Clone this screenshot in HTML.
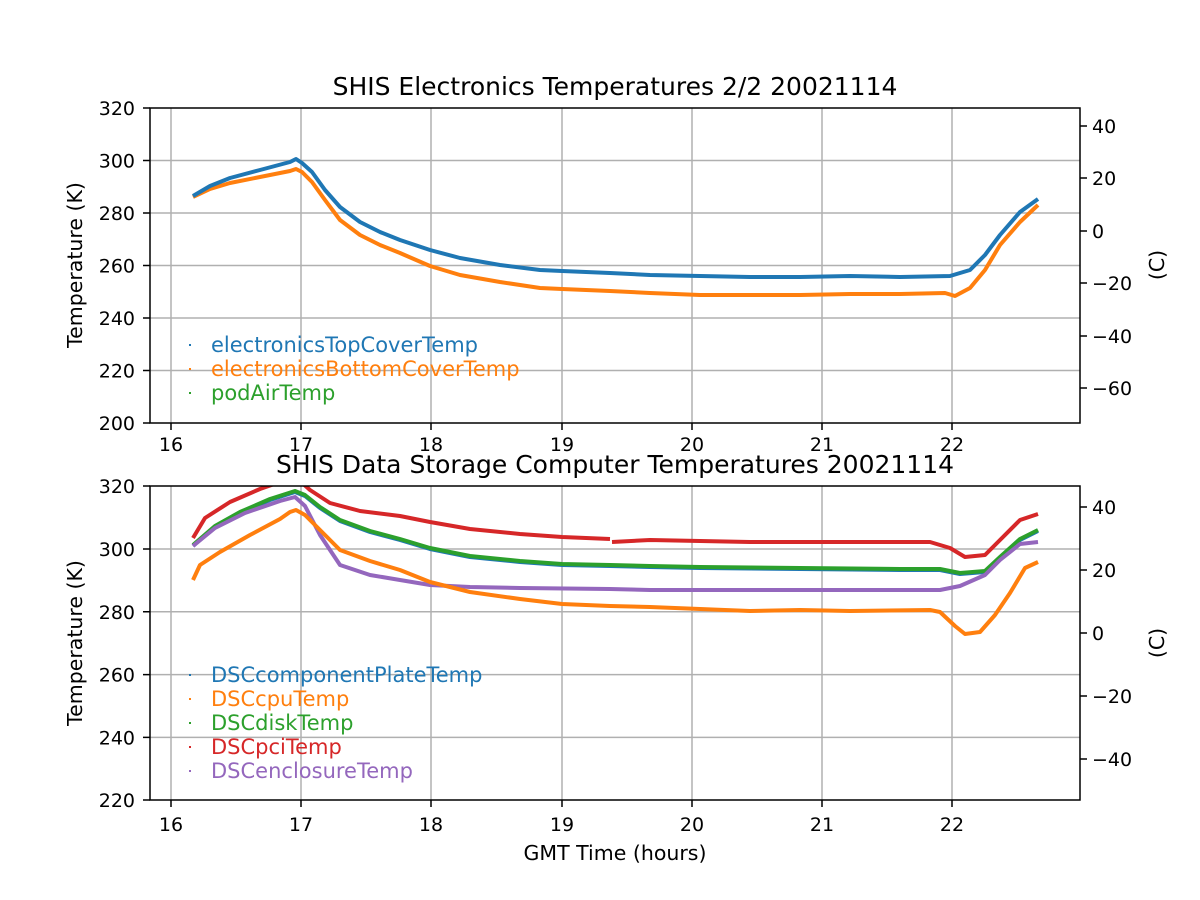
<!DOCTYPE html>
<html><head><meta charset="utf-8"><style>body{margin:0;background:#fff}svg{display:block}</style></head><body>
<svg width="1200" height="900" xmlns="http://www.w3.org/2000/svg" font-family="DejaVu Sans, Liberation Sans, sans-serif" font-size="19">
<rect width="1200" height="900" fill="#fff"/>
<g stroke="#b0b0b0" stroke-width="1.5">
<line x1="171" y1="108" x2="171" y2="423"/><line x1="301" y1="108" x2="301" y2="423"/><line x1="431" y1="108" x2="431" y2="423"/><line x1="562" y1="108" x2="562" y2="423"/><line x1="692" y1="108" x2="692" y2="423"/><line x1="822" y1="108" x2="822" y2="423"/><line x1="952" y1="108" x2="952" y2="423"/>
<line x1="150" y1="160.5" x2="1080" y2="160.5"/><line x1="150" y1="213" x2="1080" y2="213"/><line x1="150" y1="265.5" x2="1080" y2="265.5"/><line x1="150" y1="318" x2="1080" y2="318"/><line x1="150" y1="370.5" x2="1080" y2="370.5"/>
<line x1="171" y1="486" x2="171" y2="800"/><line x1="301" y1="486" x2="301" y2="800"/><line x1="431" y1="486" x2="431" y2="800"/><line x1="562" y1="486" x2="562" y2="800"/><line x1="692" y1="486" x2="692" y2="800"/><line x1="822" y1="486" x2="822" y2="800"/><line x1="952" y1="486" x2="952" y2="800"/>
<line x1="150" y1="549" x2="1080" y2="549"/><line x1="150" y1="611.8" x2="1080" y2="611.8"/><line x1="150" y1="674.6" x2="1080" y2="674.6"/><line x1="150" y1="737.4" x2="1080" y2="737.4"/>
</g>
<defs><clipPath id="c1"><rect x="150" y="108" width="930" height="315"/></clipPath><clipPath id="c2"><rect x="150" y="486" width="930" height="314"/></clipPath></defs>
<g fill="none" stroke-width="4" stroke-linejoin="round" clip-path="url(#c1)">
<polyline stroke="#ff7f0e" points="193,197 210,189 230,183 260,177 290,171 296,169 302,172 312,182 325,200 340,220 360,235 380,245 400,253 430,266 460,275 500,282 540,288 562,289 610,291 650,293 700,295 750,295 800,295 850,294 900,294 945,293 955,296 970,288 985,270 1000,245 1020,222 1038,205"/>
<polyline stroke="#1f77b4" points="193,196 210,186 230,178 260,170 290,162 296,159 302,163 312,172 325,190 340,207 360,222 380,232 400,240 430,250 460,258 500,265 540,270 562,271 610,273 650,275 700,276 750,277 800,277 850,276 900,277 950,276 970,270 985,255 1000,235 1020,212 1038,199"/>
</g>
<g fill="none" stroke-width="4" stroke-linejoin="round" clip-path="url(#c2)">
<polyline stroke="#1f77b4" points="193,546 215,527 240,513 270,500 295,492 305,496 320,508 340,521 370,532 400,540 430,549 470,557 520,562 562,565 610,566 650,567 700,568 800,569 900,570 940,570 960,574 985,572 1000,558 1020,540 1038,531"/>
<polyline stroke="#2ca02c" points="193,545 215,526 240,512 270,499 295,491 305,495 320,507 340,520 370,531 400,539 430,548 470,556 520,561 562,564 610,565 650,566 700,567 800,568 900,569 940,569 960,573 985,571 1000,557 1020,539 1038,530"/>
<polyline stroke="#d62728" points="193,538 205,518 230,502 260,489 280,482 300,481 310,490 330,503 360,511 400,516 430,522 470,529 520,534 562,537 610,539"/>
<polyline stroke="#d62728" points="612,542 650,540 700,541 750,542 800,542 850,542 930,542 950,548 965,557 985,555 1000,540 1020,520 1038,514"/>
<polyline stroke="#9467bd" points="193,546 215,528 245,513 280,501 295,497 305,506 320,535 340,565 370,575 400,580 430,585 470,587 520,588 610,589 650,590 800,590 900,590 940,590 960,586 985,575 1000,560 1020,544 1038,542"/>
<polyline stroke="#ff7f0e" points="193,580 200,565 220,552 250,535 280,519 290,512 296,510 305,515 320,530 340,550 370,561 400,570 430,582 470,592 520,599 562,604 610,606 650,607 700,609 750,611 800,610 850,611 930,610 940,612 955,626 965,634 980,632 995,615 1010,593 1025,568 1038,562"/>
</g>
<g fill="none" stroke="#000" stroke-width="1.5"><rect x="150" y="108" width="930" height="315"/><rect x="150" y="486" width="930" height="314"/></g>
<g stroke="#000" stroke-width="1.5">
<path d="M171,423v7M301,423v7M431,423v7M562,423v7M692,423v7M822,423v7M952,423v7M171,800v7M301,800v7M431,800v7M562,800v7M692,800v7M822,800v7M952,800v7"/>
<path d="M150,108h-7M150,160.5h-7M150,213h-7M150,265.5h-7M150,318h-7M150,370.5h-7M150,423h-7M150,486h-7M150,549h-7M150,611.8h-7M150,674.6h-7M150,737.4h-7M150,800h-7"/>
<path d="M1080,126h7M1080,178h7M1080,231h7M1080,283h7M1080,336h7M1080,388h7M1080,507h7M1080,570h7M1080,633h7M1080,696h7M1080,759h7"/>
</g>
<g text-anchor="middle">
<text x="171" y="451">16</text><text x="301" y="451">17</text><text x="431" y="451">18</text><text x="562" y="451">19</text><text x="692" y="451">20</text><text x="822" y="451">21</text><text x="952" y="451">22</text>
<text x="171" y="831">16</text><text x="301" y="831">17</text><text x="431" y="831">18</text><text x="562" y="831">19</text><text x="692" y="831">20</text><text x="822" y="831">21</text><text x="952" y="831">22</text>
</g>
<g text-anchor="end">
<text x="135" y="115">320</text><text x="135" y="167.5">300</text><text x="135" y="220">280</text><text x="135" y="272.5">260</text><text x="135" y="325">240</text><text x="135" y="377.5">220</text><text x="135" y="430">200</text>
<text x="135" y="493">320</text><text x="135" y="556">300</text><text x="135" y="619">280</text><text x="135" y="681.6">260</text><text x="135" y="744.4">240</text><text x="135" y="807">220</text>
</g>
<g>
<text x="1092" y="133">40</text><text x="1092" y="185">20</text><text x="1092" y="238">0</text><text x="1092" y="290">−20</text><text x="1092" y="343">−40</text><text x="1092" y="395">−60</text>
<text x="1092" y="514">40</text><text x="1092" y="577">20</text><text x="1092" y="640">0</text><text x="1092" y="703">−20</text><text x="1092" y="766">−40</text>
</g>
<g text-anchor="middle" font-size="20.5">
<text x="615" y="95" font-size="25">SHIS Electronics Temperatures 2/2 20021114</text>
<text x="615" y="473" font-size="25">SHIS Data Storage Computer Temperatures 20021114</text>
<text x="615" y="860">GMT Time (hours)</text>
<text transform="translate(82,265) rotate(-90)">Temperature (K)</text>
<text transform="translate(82,643) rotate(-90)">Temperature (K)</text>
<text transform="translate(1164,265) rotate(-90)">(C)</text>
<text transform="translate(1164,643) rotate(-90)">(C)</text>
</g>
<g font-size="21">
<rect x="189" y="344" width="2" height="2" fill="#1f77b4"/><text x="211" y="352" fill="#1f77b4">electronicsTopCoverTemp</text>
<rect x="189" y="368" width="2" height="2" fill="#ff7f0e"/><text x="211" y="376" fill="#ff7f0e">electronicsBottomCoverTemp</text>
<rect x="189" y="392" width="2" height="2" fill="#2ca02c"/><text x="211" y="400" fill="#2ca02c">podAirTemp</text>
<rect x="189" y="674" width="2" height="2" fill="#1f77b4"/><text x="211" y="682" fill="#1f77b4">DSCcomponentPlateTemp</text>
<rect x="189" y="698" width="2" height="2" fill="#ff7f0e"/><text x="211" y="706" fill="#ff7f0e">DSCcpuTemp</text>
<rect x="189" y="722" width="2" height="2" fill="#2ca02c"/><text x="211" y="730" fill="#2ca02c">DSCdiskTemp</text>
<rect x="189" y="746" width="2" height="2" fill="#d62728"/><text x="211" y="754" fill="#d62728">DSCpciTemp</text>
<rect x="189" y="770" width="2" height="2" fill="#9467bd"/><text x="211" y="778" fill="#9467bd">DSCenclosureTemp</text>
</g>
</svg>
</body></html>
